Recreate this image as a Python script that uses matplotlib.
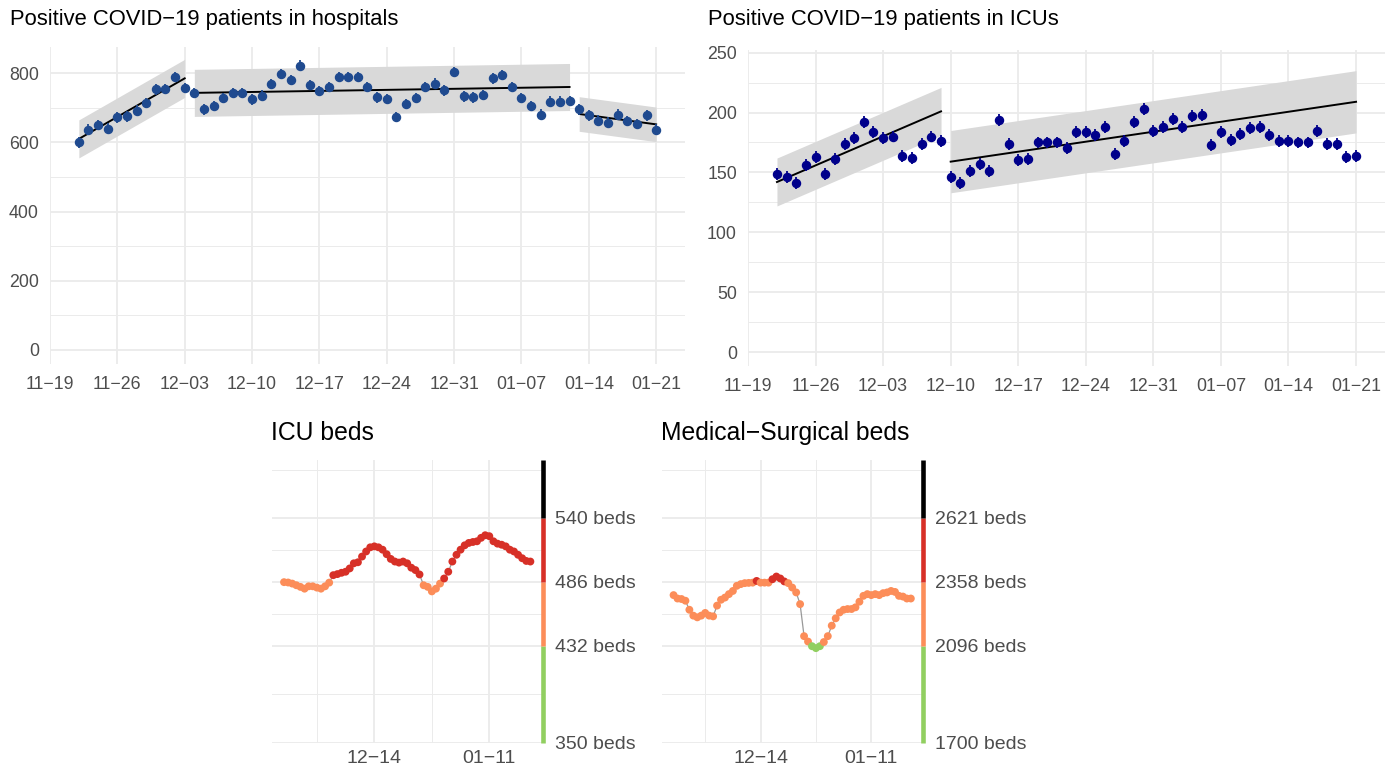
import numpy as np
import pandas as pd
import matplotlib
matplotlib.use("Agg")
import matplotlib.pyplot as plt

plt.rcParams['font.family'] = ['Liberation Sans', 'DejaVu Sans']

W, H = 1399, 773
MINUS = "\u2212"

# ---- data: daily values, 2020-11-22 .. 2021-01-21 ----
start_date = "2020-11-22"

hosp = [600, 637, 650, 640, 672, 675, 692, 713, 753, 755, 788, 757,
        742, 695, 705, 728, 742, 742, 724, 735, 769, 798, 780, 822, 765, 748,
        760, 788, 788, 788, 760, 730, 725, 673, 710, 728, 760, 770, 750, 803,
        733, 730, 737, 785, 795, 760, 728, 705, 680, 718, 718, 720,
        695, 678, 663, 657, 680, 662, 653, 678, 637]
hosp_err = 15
hosp_seg_end = [12, 52, 61]
hosp_fit_start = [610, 743, 682]
hosp_fit_end = [785, 760, 652]
hosp_band = [55, 68, 50]

icu = [149, 146, 141, 156, 163, 149, 161, 174, 179, 192, 184, 179, 180, 164,
       162, 174, 180, 176,
       146, 141, 151, 157, 151, 194, 174, 160, 161, 175, 175, 175, 170, 184,
       184, 181, 188, 165, 176, 192, 203, 185, 188, 195, 188, 197, 198, 173,
       184, 177, 182, 187, 188, 181, 176, 176, 175, 175, 185, 174, 174, 163, 164]
icu_err = 5
icu_seg_end = [18, 61]
icu_fit_start = [142, 159]
icu_fit_end = [201, 209]
icu_band = [20, 26]

icu_beds = [485.5, 485.2, 484.3, 482.9, 481.5, 480.0, 482.0, 482.0, 480.9, 480.0,
            482.0, 485.1, 491.4, 492.3, 493.4, 494.3, 497.1, 501.4, 502.3, 507.1,
            511.4, 514.9, 515.7, 514.9, 512.9, 509.1, 505.1, 502.9, 502.0, 502.9,
            501.4, 497.7, 495.7, 492.0, 482.9, 481.5, 477.7, 480.0, 484.3, 488.6,
            494.3, 502.9, 508.6, 512.9, 516.6, 518.6, 519.4, 520.0, 522.9, 525.1,
            524.3, 520.0, 518.0, 517.1, 515.7, 512.9, 511.4, 508.6, 505.7, 503.4, 502.9]
icu_levels = [350, 432, 486, 540]

ms_beds = [2304, 2290, 2288, 2281, 2244, 2220, 2213, 2220, 2231, 2220,
           2217, 2261, 2285, 2294, 2308, 2321, 2342, 2349, 2353, 2354,
           2355, 2362, 2355, 2355, 2355, 2369, 2380, 2372, 2360, 2353,
           2335, 2315, 2267, 2136, 2114, 2095, 2087, 2095, 2112, 2136,
           2179, 2209, 2233, 2244, 2247, 2247, 2254, 2277, 2301, 2308,
           2304, 2308, 2304, 2312, 2315, 2321, 2317, 2301, 2298, 2290, 2290]
ms_levels = [1700, 2096, 2358, 2621]

level_colors = ['#91CF60', '#FC8D59', '#D73027', '#000000']

dates = pd.date_range(start_date, periods=len(hosp), freq='D')
xmin = dates[0] - pd.Timedelta(days=3)
xmax = dates[-1] + pd.Timedelta(days=3)


def box(l, t, r, b):
    return [l / W, 1 - b / H, (r - l) / W, (b - t) / H]


def fmt(d):
    return d.strftime('%m') + MINUS + d.strftime('%d')


def base_style(ax):
    for s in ax.spines.values():
        s.set_visible(False)
    ax.tick_params(which='both', length=0, colors='#4D4D4D', labelsize=12.8)
    ax.grid(which='major', color='#EBEBEB', lw=1.3)
    ax.grid(which='minor', color='#EBEBEB', lw=0.7)
    ax.set_axisbelow(True)
    ax.set_xlim(xmin, xmax)


def trend_panel(ax, vals, err, seg_end, f0, f1, band, color):
    base_style(ax)
    s = 0
    for e, a, b, w in zip(seg_end, f0, f1, band):
        d = dates[s:e]
        line = np.linspace(a, b, len(d))
        ax.fill_between(d, line - w, line + w, color='#D9D9D9', lw=0, zorder=1)
        ax.plot(d, line, color='black', lw=1.4, zorder=2)
        s = e
    ax.errorbar(dates, vals, yerr=err, fmt='o', ms=5.8, color=color,
                ecolor=color, elinewidth=1.3, capsize=0, zorder=3)
    weeks = pd.date_range('2020-11-19', '2021-01-21', freq='7D')
    ax.set_xticks(weeks)
    ax.set_xticklabels([fmt(d) for d in weeks])
    ax.tick_params(axis='x', pad=8)
    ax.tick_params(axis='y', pad=8)


def beds_panel(ax, vals, levels):
    base_style(ax)
    top = levels[-1] * 1.09
    ax.set_ylim(levels[0], top)
    vals = np.asarray(vals)
    idx = np.searchsorted(levels[1:], vals, side='right')
    cols = [level_colors[i] for i in idx]
    ax.plot(dates, vals, color='#999999', lw=0.9, zorder=2)
    ax.scatter(dates, vals, c=cols, s=32, lw=0, zorder=3)
    bounds = list(levels) + [top]
    for i in range(4):
        ax.plot([xmax, xmax], [bounds[i], bounds[i + 1]], color=level_colors[i],
                lw=3.3, solid_capstyle='butt', clip_on=False, zorder=4)
    ax.yaxis.tick_right()
    ax.set_yticks(levels)
    ax.set_yticklabels([f"{v} beds" for v in levels])
    mids = [(levels[i] + levels[i + 1]) / 2 for i in range(3)] + [levels[-1] * 1.074]
    ax.set_yticks(mids, minor=True)
    ticks = pd.to_datetime(['2020-12-14', '2021-01-11'])
    ax.set_xticks(ticks)
    ax.set_xticklabels([fmt(d) for d in ticks])
    ax.set_xticks(pd.to_datetime(['2020-11-30', '2020-12-28']), minor=True)
    ax.tick_params(axis='y', which='both', pad=9, labelsize=14)
    ax.tick_params(axis='x', pad=5, labelsize=14)


fig = plt.figure(figsize=(W / 100, H / 100), dpi=100)

ax1 = fig.add_axes(box(50, 46.6, 685, 364.4))
trend_panel(ax1, hosp, hosp_err, hosp_seg_end, hosp_fit_start, hosp_fit_end,
            hosp_band, '#1F4A8F')
ax1.set_ylim(-41.75, 876.75)
ax1.set_yticks([0, 200, 400, 600, 800])
ax1.set_yticks([100, 300, 500, 700], minor=True)

ax2 = fig.add_axes(box(748, 50.3, 1385, 366.4))
trend_panel(ax2, icu, icu_err, icu_seg_end, icu_fit_start, icu_fit_end,
            icu_band, '#00008B')
ax2.set_ylim(-12, 252)
ax2.set_yticks([0, 50, 100, 150, 200, 250])
ax2.set_yticks([25, 75, 125, 175, 225], minor=True)

ax3 = fig.add_axes(box(271.7, 460, 542.7, 742.7))
beds_panel(ax3, icu_beds, icu_levels)

ax4 = fig.add_axes(box(661.7, 460, 922.7, 742.7))
beds_panel(ax4, ms_beds, ms_levels)

fig.text(10 / W, 1 - 20 / H, "Positive COVID" + MINUS + "19 patients in hospitals",
         fontsize=15.8, va='center', ha='left')
fig.text(708 / W, 1 - 20 / H, "Positive COVID" + MINUS + "19 patients in ICUs",
         fontsize=15.8, va='center', ha='left')
fig.text(271 / W, 1 - 433 / H, "ICU beds", fontsize=17.8, va='center', ha='left')
fig.text(661 / W, 1 - 433 / H, "Medical" + MINUS + "Surgical beds", fontsize=17.8,
         va='center', ha='left')

fig.savefig("out.png", dpi=100, facecolor='white')
